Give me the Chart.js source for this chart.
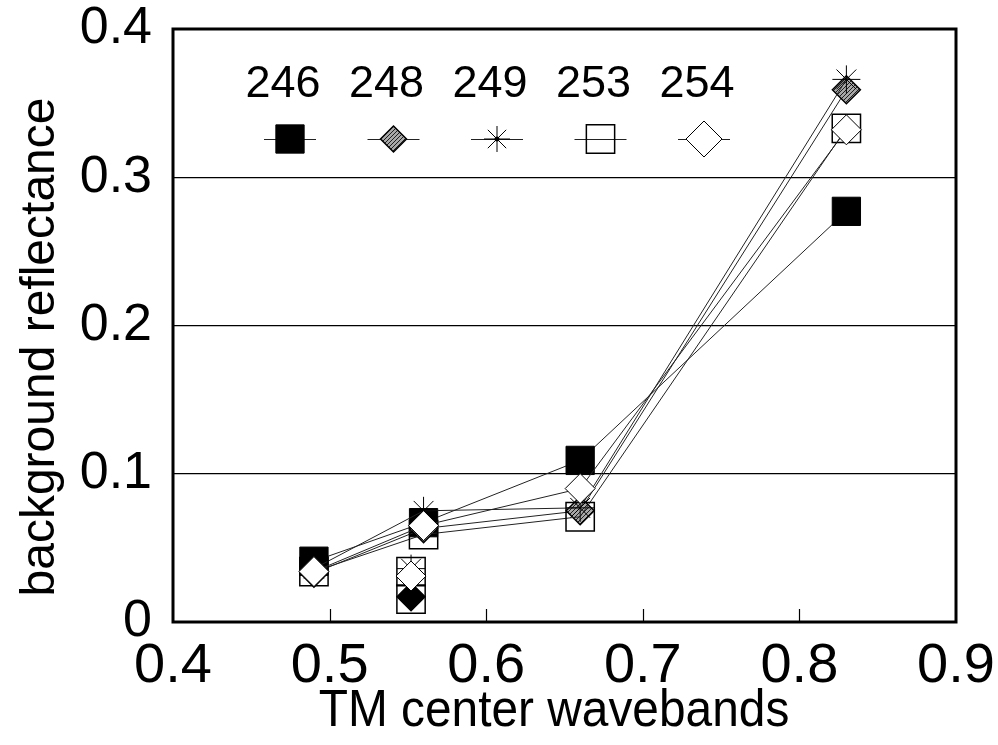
<!DOCTYPE html>
<html>
<head>
<meta charset="utf-8">
<script src="https://cdn.jsdelivr.net/npm/chart.js@4.4.0/dist/chart.umd.min.js"></script>
<style>
    html, body { margin: 0; padding: 0; background: #fff; }
    #chart { display: block; }
</style>
</head>
<body>
<canvas id="chart" width="998" height="745"></canvas>
<script>
// TM band centres (um) and background reflectance per site
const bands = [0.49, 0.56, 0.66, 0.83];
const seriesNames = ['246', '248', '249', '253', '254'];
const r246 = [0.041, 0.067, 0.109, 0.277];
const r248 = [0.033, 0.063, 0.075, 0.359];
const r249 = [0.036, 0.075, 0.077, 0.366];
const r253 = [0.034, 0.059, 0.071, 0.333];
const r254 = [0.034, 0.065, 0.090, 0.332];

// loose points plotted near 0.55 (not joined)
const looseBand = 0.552;
const loose248 = [0.017];
const loose249 = [0.036];
const loose253 = [0.034, 0.0155];
const loose254 = [0.031];

const xTicks = [0.4, 0.5, 0.6, 0.7, 0.8, 0.9];
const yTicks = [0, 0.1, 0.2, 0.3, 0.4];

const FONT = '"Liberation Sans", Arial, sans-serif';
const canvas = document.getElementById('chart');
const ctx = canvas.getContext('2d');

// hatched grey fill used by the 248 diamonds
function makeHatch() {
    const c = document.createElement('canvas');
    c.width = 4; c.height = 4;
    const g = c.getContext('2d');
    g.fillStyle = '#a8a8a8';
    g.fillRect(0, 0, 4, 4);
    g.strokeStyle = '#202020';
    g.lineWidth = 1;
    g.beginPath(); g.moveTo(0, 4); g.lineTo(4, 0); g.stroke();
    return ctx.createPattern(c, 'repeat');
}
const hatch = makeHatch();

const styles = {
    '246': { pointStyle: 'rect', radius: 20, bg: '#000', bw: 1 },
    '248': { pointStyle: 'rectRot', radius: 14, bg: hatch, bw: 1.5 },
    '249': { pointStyle: 'star', radius: 14, bg: 'rgba(0,0,0,0)', bw: 1 },
    '253': { pointStyle: 'rect', radius: 20, bg: 'rgba(0,0,0,0)', bw: 1.5 },
    '254': { pointStyle: 'rectRot', radius: 15, bg: '#fff', bw: 1 }
};

const lineData = { '246': r246, '248': r248, '249': r249, '253': r253, '254': r254 };
const looseData = { '248': loose248, '249': loose249, '253': loose253, '254': loose254 };

const datasets = [];
seriesNames.forEach((name, i) => {
    const s = styles[name];
    const order = seriesNames.length - i; // 246 drawn first, 254 on top
    datasets.push({
        label: name,
        data: bands.map((b, k) => ({ x: b, y: lineData[name][k] })),
        showLine: true,
        borderColor: '#222',
        borderWidth: 1,
        pointStyle: s.pointStyle,
        pointRadius: s.radius,
        pointHoverRadius: s.radius,
        pointBackgroundColor: s.bg,
        pointBorderColor: '#000',
        pointBorderWidth: s.bw,
        order: order
    });
    if (looseData[name]) {
        datasets.push({
            label: name + ' (loose)',
            data: looseData[name].map(v => ({ x: looseBand, y: v })),
            showLine: false,
            pointStyle: s.pointStyle,
            pointRadius: s.radius,
            pointBackgroundColor: name === '248' ? '#000' : s.bg,
            pointBorderColor: '#000',
            pointBorderWidth: s.bw,
            order: order
        });
    }
});

function drawMarker(c, name, x, y, radius) {
    const s = styles[name];
    c.save();
    c.fillStyle = s.bg;
    c.strokeStyle = '#000';
    c.lineWidth = s.bw;
    Chart.helpers.drawPoint(c, { pointStyle: s.pointStyle, radius: radius || s.radius, rotation: 0, borderWidth: s.bw }, x, y);
    if (name === '249') {
        c.fillStyle = '#000';
        c.beginPath(); c.arc(x, y, 2.5, 0, Math.PI * 2); c.fill();
    }
    c.restore();
}

const decorPlugin = {
    id: 'decor',
    afterDraw(chart) {
        const c = chart.ctx;
        const a = chart.chartArea;
        const xs = chart.scales.x;

        // frame
        c.save();
        c.strokeStyle = '#000';
        c.lineWidth = 3;
        c.strokeRect(a.left, a.top, a.right - a.left, a.bottom - a.top);

        // inward tick marks on the x axis
        c.lineWidth = 1.2;
        xTicks.slice(1, -1).forEach(v => {
            const px = Math.round(xs.getPixelForValue(v)) + 0.5;
            c.beginPath();
            c.moveTo(px, a.bottom);
            c.lineTo(px, a.bottom - 13);
            c.stroke();
        });

        // legend inside the plot: numbers over markers
        c.fillStyle = '#000';
        c.font = '45px ' + FONT;
        c.textAlign = 'center';
        c.textBaseline = 'alphabetic';
        seriesNames.forEach((name, i) => {
            const lx = 283 + 103.5 * i;
            const mx = lx + 7;
            c.fillText(name, lx, 97);
            c.lineWidth = 1;
            c.strokeStyle = '#222';
            c.beginPath();
            c.moveTo(mx - 26, 139.5);
            c.lineTo(mx + 26, 139.5);
            c.stroke();
            drawMarker(c, name, mx, 139, name === '254' ? 18 : (name === '246' || name === '253' ? 20 : 13));
        });

        // axis titles
        c.save();
        c.translate(554, 726);
        c.scale(0.92, 1);
        c.font = '52px ' + FONT;
        c.fillText('TM center wavebands', 0, 0);
        c.restore();
        c.translate(54, 347);
        c.rotate(-Math.PI / 2);
        c.font = '48px ' + FONT;
        c.fillText('background reflectance', 0, 0);
        c.restore();
    }
};

new Chart(ctx, {
    type: 'scatter',
    data: { datasets: datasets },
    options: {
        responsive: false,
        animation: false,
        layout: { padding: { top: 29, right: 42, left: 0, bottom: 0 } },
        plugins: {
            legend: { display: false },
            tooltip: { enabled: false }
        },
        scales: {
            x: {
                type: 'linear',
                min: 0.4,
                max: 0.9,
                afterBuildTicks: scale => { scale.ticks = xTicks.map(v => ({ value: v })); },
                afterFit: scale => {
                    scale.height = 123;
                    scale.paddingLeft = 0;
                    scale.paddingRight = 0;
                },
                ticks: {
                    color: '#000',
                    padding: 11,
                    font: { family: FONT, size: 56 },
                    callback: v => Number(v).toFixed(1)
                },
                grid: { display: false, drawTicks: false },
                border: { display: false }
            },
            y: {
                type: 'linear',
                min: 0,
                max: 0.4,
                afterBuildTicks: scale => { scale.ticks = yTicks.map(v => ({ value: v })); },
                afterFit: scale => {
                    scale.width = 173;
                    scale.paddingTop = 0;
                    scale.paddingBottom = 0;
                },
                ticks: {
                    color: '#000',
                    padding: 21,
                    font: { family: FONT, size: 52 },
                    callback: v => v === 0 ? '0' : Number(v).toFixed(1)
                },
                grid: {
                    drawTicks: false,
                    lineWidth: 1.2,
                    color: c => (c.tick && (c.tick.value === 0 || c.tick.value === 0.4)) ? 'rgba(0,0,0,0)' : '#000'
                },
                border: { display: false }
            }
        }
    },
    plugins: [decorPlugin]
});
</script>
</body>
</html>
